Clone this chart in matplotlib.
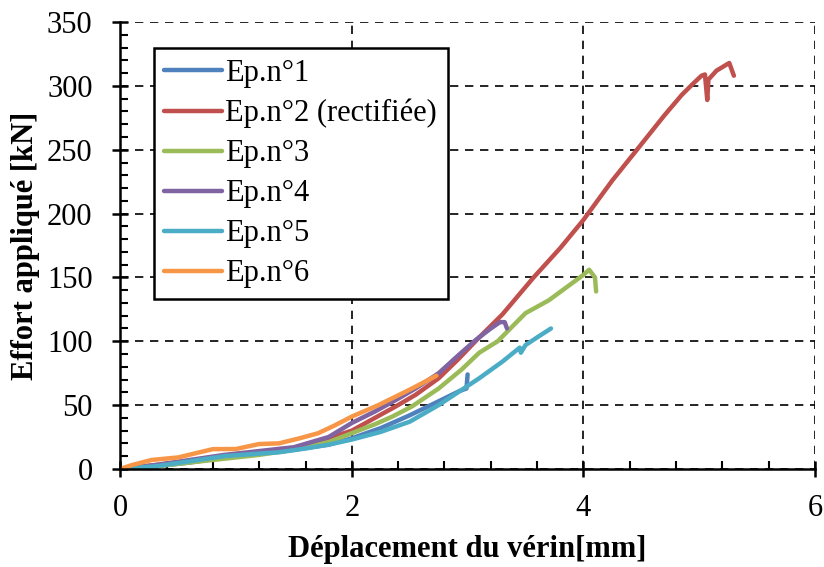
import matplotlib
matplotlib.use("Agg")
import matplotlib.pyplot as plt
from matplotlib.ticker import MultipleLocator

plt.rcParams['font.family'] = ['Liberation Serif', 'DejaVu Serif']

# Ep.n°1
x1 = [0, 0.3, 0.6, 0.9, 1.2, 1.5, 1.8, 2.0, 2.25, 2.5, 2.75, 2.93, 2.99, 3.0]
y1 = [0, 2, 5, 9, 12, 15, 19, 24, 32, 42, 53, 61, 63, 74]
# Ep.n°2 (rectifiée)
x2 = [0, 0.3, 0.6, 0.9, 1.2, 1.5, 1.8, 2.0, 2.2, 2.38, 2.55, 2.75, 2.92, 3.1, 3.3,
      3.57, 3.8, 4.0, 4.25, 4.48, 4.7, 4.85, 4.95, 5.02, 5.05, 5.07, 5.08, 5.15, 5.26, 5.3]
y2 = [0, 3, 6, 10, 13, 16, 24, 30, 40, 49, 58, 71, 86, 103, 121,
      150, 173, 195, 226, 252, 277, 293, 302, 308, 309, 289, 305, 312, 318, 308]
# Ep.n°3
x3 = [0, 0.3, 0.6, 0.9, 1.2, 1.5, 1.8, 2.0, 2.2, 2.35, 2.52, 2.75, 2.95, 3.1, 3.26,
      3.5, 3.7, 3.85, 4.0, 4.05, 4.1, 4.11]
y3 = [0, 2, 5, 8, 11, 15, 21, 28, 35, 41, 49, 63, 78, 91, 100,
      122, 132, 142, 152, 156, 150, 139]
# Ep.n°4
x4 = [0, 0.3, 0.6, 0.9, 1.2, 1.5, 1.8, 2.0, 2.2, 2.38, 2.55, 2.75, 2.92, 3.07, 3.2,
      3.28, 3.32, 3.34]
y4 = [0, 3, 7, 11, 14, 17, 25, 36, 45, 54, 63, 75, 89, 101, 110, 115, 115, 110]
# Ep.n°5
x5 = [0, 0.3, 0.6, 0.9, 1.2, 1.37, 1.6, 1.8, 2.0, 2.25, 2.5, 2.75, 3.0, 3.1, 3.3,
      3.45, 3.46, 3.5, 3.6, 3.72]
y5 = [0, 2, 6, 10, 12, 13, 16, 19, 23, 29, 37, 50, 65, 71, 84, 95, 91, 97, 103, 110]
# Ep.n°6
x6 = [0, 0.1, 0.27, 0.5, 0.8, 1.0, 1.2, 1.37, 1.55, 1.71, 1.85, 2.0, 2.23, 2.52, 2.73]
y6 = [0, 3, 7, 9, 15.5, 15.6, 19.5, 20, 24, 28, 34, 41, 50, 63, 73]

labels = ['Ep.n°1', 'Ep.n°2 (rectifiée)', 'Ep.n°3', 'Ep.n°4', 'Ep.n°5', 'Ep.n°6']
colors = ['#4F81BD', '#C0504D', '#9BBB59', '#8064A2', '#4BACC6', '#F79646']
series = [(x1, y1), (x2, y2), (x3, y3), (x4, y4), (x5, y5), (x6, y6)]

fig = plt.figure(figsize=(8.24, 5.67), dpi=100)
ax = fig.add_axes([0.146, 0.173, 0.843, 0.788])

for (xs, ys), lab, c in zip(series, labels, colors):
    ax.plot(xs, ys, color=c, lw=3.2, label=lab, solid_capstyle='round',
            solid_joinstyle='round')

ax.set_xlim(0, 6)
ax.set_ylim(0, 350)
ax.xaxis.set_major_locator(MultipleLocator(2))
ax.xaxis.set_minor_locator(MultipleLocator(0.4))
ax.yaxis.set_major_locator(MultipleLocator(50))
ax.yaxis.set_minor_locator(MultipleLocator(10))
ax.grid(True, which='major', color='black', linestyle=(0, (5, 4)), lw=1.2)

for s in ax.spines.values():
    s.set_linewidth(1.8)
ax.spines['top'].set_visible(False)
ax.spines['right'].set_visible(False)

ax.tick_params(which='major', direction='inout', length=12, width=1.8, labelsize=22)
ax.tick_params(axis='x', which='major', pad=12)
ax.tick_params(axis='y', which='major', pad=14)
ax.tick_params(which='minor', direction='in', length=6, width=1.5)

ax.set_xlabel('Déplacement du vérin[mm]', fontsize=22, fontweight='bold', labelpad=9)
ax.set_ylabel('Effort appliqué [kN]', fontsize=22, fontweight='bold', labelpad=5)

leg = ax.legend(loc='upper left', bbox_to_anchor=(0.048, 0.942), fontsize=22,
                frameon=True, fancybox=False, edgecolor='black', framealpha=1,
                handlelength=1.9, handletextpad=0.1, labelspacing=0.36,
                borderpad=0.35, borderaxespad=0)
leg.get_frame().set_linewidth(1.8)

fig.savefig('out.png', dpi=100)
